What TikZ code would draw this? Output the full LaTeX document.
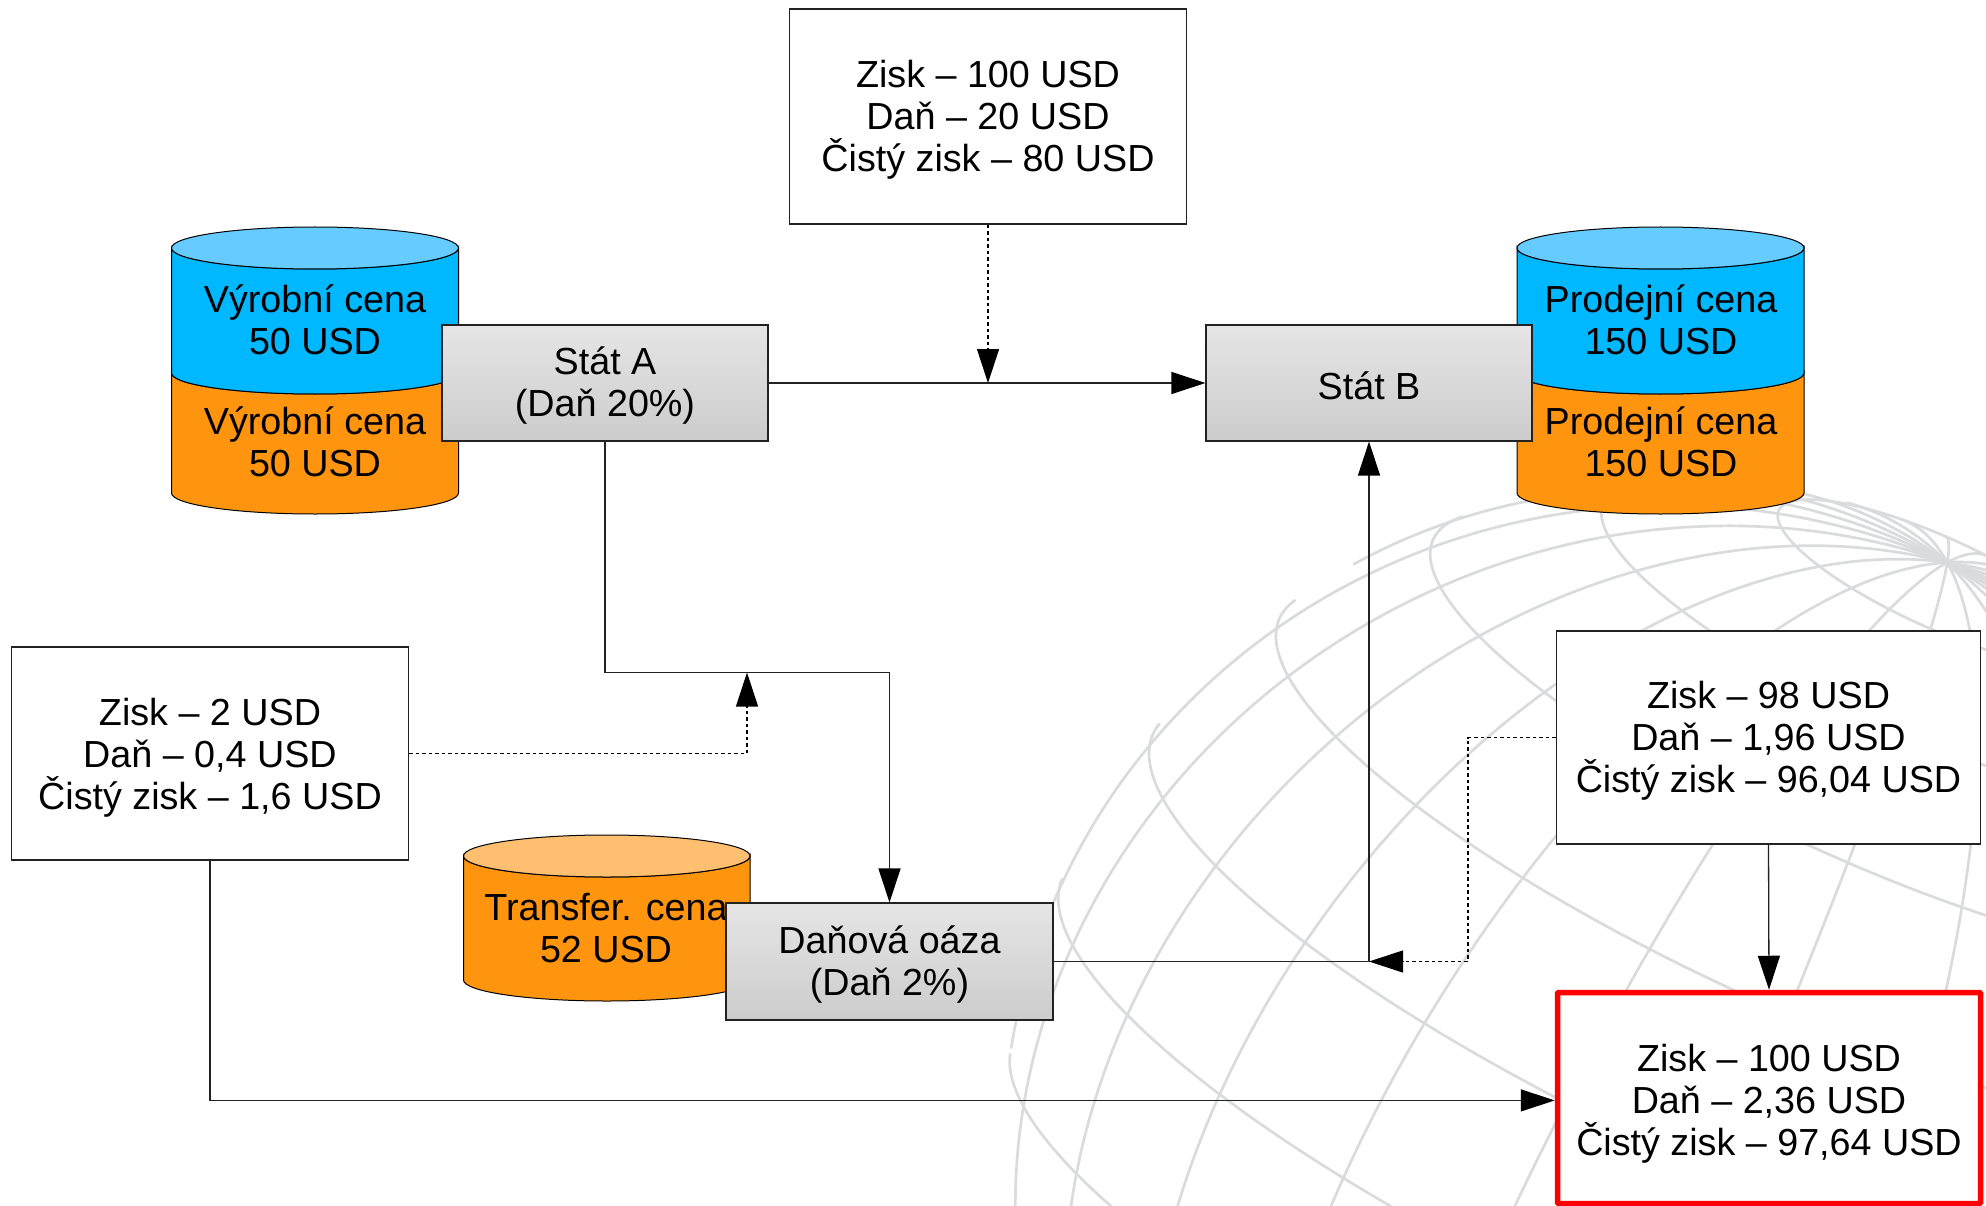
\documentclass[tikz,border=0pt]{standalone}
\usepackage{fontspec}
\setmainfont{Liberation Sans}
\usetikzlibrary{arrows.meta}
\definecolor{cblue}{HTML}{00B8FF}
\definecolor{cbluetop}{HTML}{66CCFF}
\definecolor{corange}{HTML}{FF950E}
\definecolor{corangetop}{HTML}{FFBF70}
\definecolor{globeline}{HTML}{DADBDC}
\definecolor{conn}{HTML}{222222}
\newcommand{\drop}[1]{\rule{0pt}{#1pt}}
\tikzset{
  x=1pt,y=-1pt,
  every node/.style={font=\fontsize{37.7}{42}\selectfont,align=center,inner sep=0pt,text=black},
  whitebox/.style={draw=conn,line width=1.1pt,fill=white},
  graybox/.style={draw=conn,line width=1.1pt,top color=gray!20,bottom color=gray!40,shading angle=0},
  redbox/.style={draw=red,line width=5.5pt,fill=white,rounded corners=1pt},
  conline/.style={draw=conn,line width=1.3pt},
  arrowline/.style={conline,-{Triangle[length=34pt,width=22pt,color=black]}},
  dasharrow/.style={draw=black,line width=1.1pt,dash pattern=on 3.5pt off 3pt,-{Triangle[length=34pt,width=22pt,color=black]}},
  cylline/.style={draw=black,line width=1pt},
  globe/.style={globeline,line width=2.7pt,line join=round}
}
\newcommand{\cylbody}[5]{%
  \pgfmathsetmacro{\rxx}{(#2-#1)/2}%
  \draw[cylline,fill=#5] (#1,#3) -- (#1,#4) arc[start angle=180,end angle=360,x radius=\rxx pt,y radius=21pt] -- (#2,#3) arc[start angle=0,end angle=-180,x radius=\rxx pt,y radius=21pt] -- cycle;}
\newcommand{\cyltop}[4]{%
  \pgfmathsetmacro{\rxx}{(#2-#1)/2}%
  \draw[cylline,fill=#4] ({(#1+#2)/2},#3) ellipse[x radius=\rxx pt,y radius=21pt];}
\begin{document}
\begin{tikzpicture}
\useasboundingbox (0,0) rectangle (1986,1206);
% globe
\begin{scope}
\clip (0,0) rectangle (1986,1206);
\def\Cx{1678}\def\Cy{1157}\def\Rr{675}\def\T{15}\def\Lz{4}
\pgfmathsetmacro{\ux}{0.413}\pgfmathsetmacro{\uy}{-0.912}
\pgfmathsetmacro{\vx}{0.912}\pgfmathsetmacro{\vy}{0.413}
% parallels
\foreach \phi in {-60,-45,-30,-15,0,15,30,45,60,75}{
  \pgfmathsetmacro{\tp}{tan(\phi)*tan(\T)}
  \pgfmathsetmacro{\lm}{\tp>=0.999?180:(\tp<=-0.999?0:acos(-\tp))}
  \draw[globe] plot[variable=\a,domain=-\lm:\lm,samples=90,smooth]
   ({\Cx+\Rr*(cos(\phi)*sin(\a)*\vx+(sin(\phi)*cos(\T)-cos(\phi)*cos(\a)*sin(\T))*\ux)},
    {\Cy+\Rr*(cos(\phi)*sin(\a)*\vy+(sin(\phi)*cos(\T)-cos(\phi)*cos(\a)*sin(\T))*\uy)});
}
% meridians
\foreach \l in {0,15,...,345}{
  \pgfmathsetmacro{\lam}{\l+\Lz}
  \pgfmathsetmacro{\pmin}{atan2(-cos(\lam),tan(\T))}
  \draw[globe] plot[variable=\a,domain=\pmin:90,samples=60,smooth]
   ({\Cx+\Rr*(cos(\a)*sin(\lam)*\vx+(sin(\a)*cos(\T)-cos(\a)*cos(\lam)*sin(\T))*\ux)},
    {\Cy+\Rr*(cos(\a)*sin(\lam)*\vy+(sin(\a)*cos(\T)-cos(\a)*cos(\lam)*sin(\T))*\uy)});
}
\end{scope}
% cylinders
\cylbody{171.5}{458.5}{373}{493}{corange}
\cylbody{171.5}{458.5}{248}{373}{cblue}
\cyltop{171.5}{458.5}{248}{cbluetop}
\cylbody{1517}{1804}{373}{493}{corange}
\cylbody{1517}{1804}{248}{373}{cblue}
\cyltop{1517}{1804}{248}{cbluetop}
\cylbody{463.5}{750}{856}{980}{corange}
\cyltop{463.5}{750}{856}{corangetop}
\node (vc1) at (315,320) {Výrobní cena\\50 USD};
\node (vc2) at (315,442) {Výrobní cena\\50 USD};
\node (pc1) at (1661,320) {Prodejní cena\\150 USD};
\node (pc2) at (1661,442) {Prodejní cena\\150 USD};
\node (tc) at (606,928) {Transfer. cena\\52 USD};
% boxes
\node[graybox,minimum width=326pt,minimum height=116pt] (statA) at (605,383) {\drop{33}Stát A\\(Daň 20\%)};
\node[graybox,minimum width=326pt,minimum height=116pt] (statB) at (1369,383) {\drop{33}Stát B};
\node[graybox,minimum width=327pt,minimum height=117pt] (oaza) at (889.5,961.5) {\drop{33}Daňová oáza\\(Daň 2\%)};
\node[whitebox,minimum width=397pt,minimum height=215pt] (top) at (988,116.5) {\drop{33}Zisk – 100 USD\\Daň – 20 USD\\Čistý zisk – 80 USD};
\node[whitebox,minimum width=397pt,minimum height=213pt] (left) at (210,753.5) {\drop{35}Zisk – 2 USD\\Daň – 0,4 USD\\Čistý zisk – 1,6 USD};
\node[whitebox,minimum width=424pt,minimum height=213pt] (right) at (1768.5,737.5) {\drop{33}Zisk – 98 USD\\Daň – 1,96 USD\\Čistý zisk – 96,04 USD};
\node[redbox,minimum width=423pt,minimum height=211pt] (result) at (1769,1098) {\drop{38}Zisk – 100 USD\\Daň – 2,36 USD\\Čistý zisk – 97,64 USD};
% junctions
\coordinate (jtop) at (top.south |- statA.east);
\coordinate (jab) at (statA.south |- 0,672.5);
\coordinate (jleft) at (747,672.5);
\coordinate (jo) at (statB.south |- oaza.east);
\coordinate (jr) at (1468,737.5);
\coordinate (jres) at (result.west |- 0,1100.4);
% connectors
\draw[arrowline] (statA.east) -- (statB.west);
\draw[dasharrow] (top.south) -- (jtop);
\draw[arrowline] (statA.south) -- (jab) -| (oaza.north);
\draw[dasharrow] (left.east) -| (jleft);
\draw[arrowline] (left.south) |- (jres);
\draw[conline] (oaza.east) -- (jo);
\draw[arrowline] (jo) -- (statB.south);
\draw[dasharrow] (right.west) -- (jr) |- (jo);
\draw[arrowline] (right.south) -- (result.north);
\end{tikzpicture}
\end{document}
